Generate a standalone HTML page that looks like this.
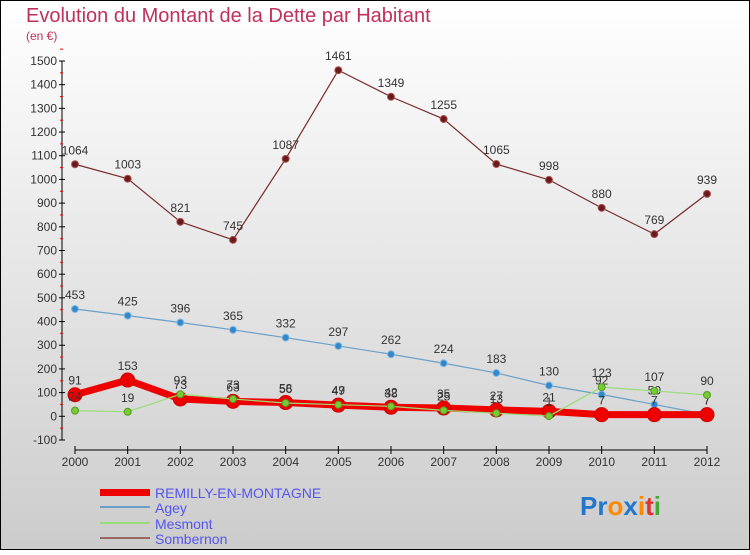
<!DOCTYPE html>
<html><head><meta charset="utf-8"><style>
body{margin:0;width:750px;height:550px;overflow:hidden;font-family:"Liberation Sans",sans-serif}
svg text{font-family:"Liberation Sans",sans-serif}
</style></head><body>
<svg id="chart" width="750" height="550">
<defs><linearGradient id="bg" x1="0" y1="0" x2="0" y2="1"><stop offset="0" stop-color="#ffffff"/><stop offset="1" stop-color="#cccccc"/></linearGradient></defs>
<rect x="0.5" y="0.5" width="749" height="549" fill="url(#bg)" stroke="#000"/>
<text x="26" y="22" font-size="20" fill="#c0305a">Evolution du Montant de la Dette par Habitant</text>
<text x="26" y="40" font-size="12" fill="#c0305a">(en €)</text>
<g id="axes"></g><g id="series"></g>
<g>
<rect x="100" y="489" width="50" height="7" fill="#ee0000"/>
<text x="155" y="498" font-size="14" fill="#5555ee">REMILLY-EN-MONTAGNE</text>
<rect x="100" y="506" width="50" height="2" fill="#6aa0c8"/>
<text x="155" y="513" font-size="14" fill="#5555ee">Agey</text>
<rect x="100" y="522" width="50" height="2" fill="#99dd77"/>
<text x="155" y="529" font-size="14" fill="#5555ee">Mesmont</text>
<rect x="100" y="537" width="50" height="2" fill="#996666"/>
<text x="155" y="544" font-size="14" fill="#5555ee">Sombernon</text>
</g>
<g font-size="26" font-weight="bold">
<text x="580" y="515"><tspan fill="#2277cc">Pr</tspan><tspan fill="#ff8800">o</tspan><tspan fill="#2277cc">x</tspan><tspan fill="#ff8800">i</tspan><tspan fill="#dd3333">t</tspan><tspan fill="#44aa33">i</tspan></text>
</g>
</svg>
<script>
const years=[2000,2001,2002,2003,2004,2005,2006,2007,2008,2009,2010,2011,2012];
const yTicks=[-100,0,100,200,300,400,500,600,700,800,900,1000,1100,1200,1300,1400,1500];
const remilly=[91,153,73,63,58,47,38,35,27,21,7,7,7];
const agey=[453,425,396,365,332,297,262,224,183,130,92,50,7];
const mesmont=[24,19,93,73,56,49,42,25,13,1,123,107,90];
const sombernon=[1064,1003,821,745,1087,1461,1349,1255,1065,998,880,769,939];
const NS="http://www.w3.org/2000/svg";
function X(i){return 75+i*(707-75)/(years.length-1);}
function Y(v){return 416.3-v*(379/1600);}
function mk(tag,attrs,parent){const e=document.createElementNS(NS,tag);for(const k in attrs)e.setAttribute(k,attrs[k]);parent.appendChild(e);return e;}
const ax=document.getElementById('axes');
let yl=mk('line',{x1:62,y1:Y(1500),x2:62,y2:Y(-100),stroke:'#000'},ax);


yTicks.forEach(t=>{
  mk('line',{x1:59,y1:Y(t),x2:65,y2:Y(t),stroke:'#000'},ax);
  mk('line',{x1:60,y1:Y(t+50),x2:63,y2:Y(t+50),stroke:'#e00'},ax);
  const tx=mk('text',{x:57,y:Y(t)+4,'font-size':12,'text-anchor':'end',fill:'#333'},ax);
  tx.textContent=t;
  
  
});
let xl=mk('line',{x1:X(0),y1:450,x2:X(12),y2:450,stroke:'#000'},ax);


years.forEach((y,i)=>{
  mk('line',{x1:X(i),y1:446,x2:X(i),y2:454,stroke:'#000'},ax);
  const tx=mk('text',{x:X(i),y:466,'font-size':12,'text-anchor':'middle',fill:'#333'},ax);
  tx.textContent=y;
  
  
});
const sg=document.getElementById('series');
function draw(data,name,color,w,r,dot,stroke){
  const g=mk('g',{},sg);
  
  
  const p=mk('polyline',{points:data.map((v,i)=>X(i)+','+Y(v)).join(' '),fill:'none',stroke:color,'stroke-width':w,'stroke-linejoin':'round'},g);
  
  
  data.forEach((v,i)=>{
    const c=mk('circle',{cx:X(i),cy:Y(v),r:r,fill:dot,stroke:stroke,'stroke-width':1},g);
    
    
    const t=mk('text',{x:X(i),y:Y(v)-10,'font-size':12,'text-anchor':'middle',fill:'#333'},g);
    t.textContent=v;
    
    
  });
}
draw(sombernon,'sombernon','#7a2a2a',1.2,3.5,'#6a1a1a','#a55');
draw(agey,'agey','#6aa0c8',1.2,3.5,'#3388cc','#88bbdd');
draw(remilly,'remilly','#ee0000',7,7,'#ee0000','#c00');
draw(mesmont,'mesmont','#99dd77',1.2,3.5,'#77cc33','#559922');
</script>
</body></html>
